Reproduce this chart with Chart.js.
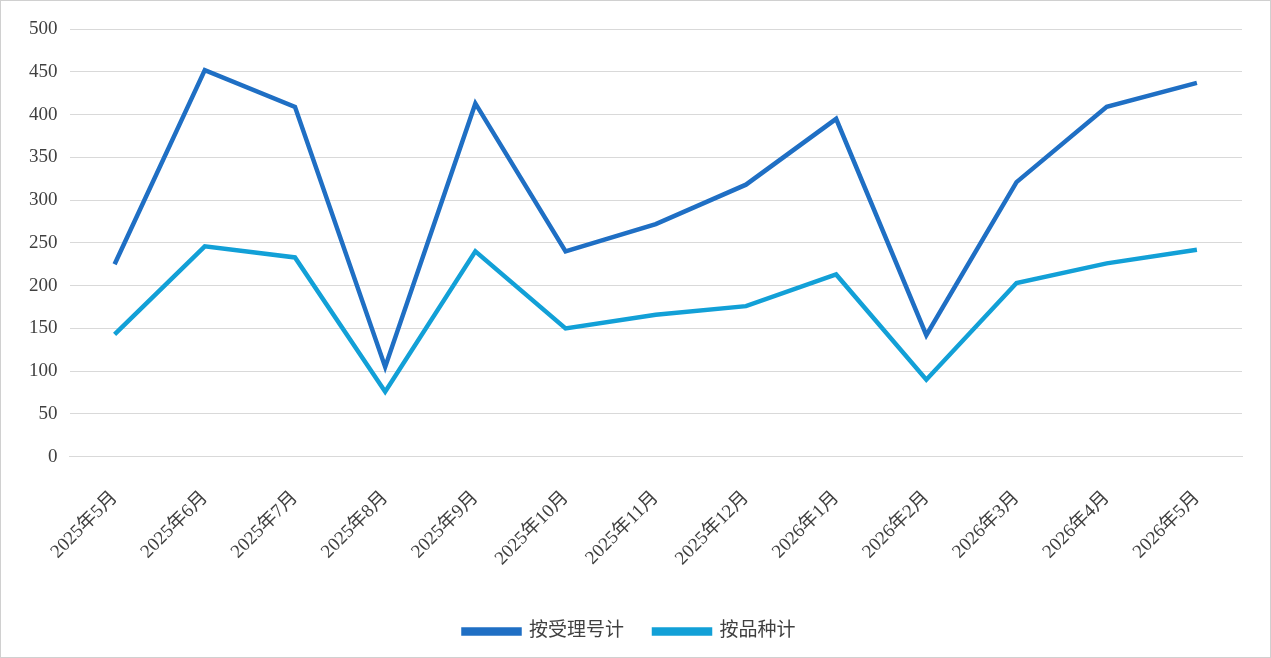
<!DOCTYPE html>
<html><head><meta charset="utf-8">
<script src="https://cdn.jsdelivr.net/npm/chart.js@4"></script>
<style>html,body{margin:0;padding:0;background:#fff}#w{width:1269px;height:656px;border:1px solid #d0d0d0;position:relative}</style>
</head><body><div id="w"><canvas id="c"></canvas></div>
<script>
const categories=['2025年5月','2025年6月','2025年7月','2025年8月','2025年9月','2025年10月','2025年11月','2025年12月','2026年1月','2026年2月','2026年3月','2026年4月','2026年5月'];
const byAcceptance=[225,452,409,105,413,240,272,318,395,142,321,409,437];
const byVariety=[143,246,233,76,240,150,166,176,213,90,203,226,242];
const seriesNames=['按受理号计','按品种计'];
const font="'Liberation Serif','Noto Sans CJK SC',serif";
new Chart(document.getElementById('c'),{type:'line',
data:{labels:categories,datasets:[
{label:seriesNames[0],data:byAcceptance,borderColor:'#1f6fc4',backgroundColor:'#1f6fc4',borderWidth:4.5,pointRadius:0,tension:0},
{label:seriesNames[1],data:byVariety,borderColor:'#12a0d7',backgroundColor:'#12a0d7',borderWidth:4.5,pointRadius:0,tension:0}]},
options:{responsive:true,maintainAspectRatio:false,animation:false,
layout:{padding:{left:16,right:28,top:28,bottom:6}},
plugins:{legend:{position:'bottom',labels:{font:{family:font,size:19},color:'#404040',boxWidth:56,boxHeight:4,padding:30}},tooltip:{enabled:false}},
scales:{x:{offset:true,grid:{display:false},border:{color:'#d9d9d9'},ticks:{font:{family:font,size:19},color:'#404040',maxRotation:45,minRotation:45,padding:22}},
y:{min:0,max:500,ticks:{stepSize:50,font:{family:font,size:19},color:'#404040',padding:12},grid:{color:'#d9d9d9',drawTicks:false},border:{display:false}}}}});
</script></body></html>
